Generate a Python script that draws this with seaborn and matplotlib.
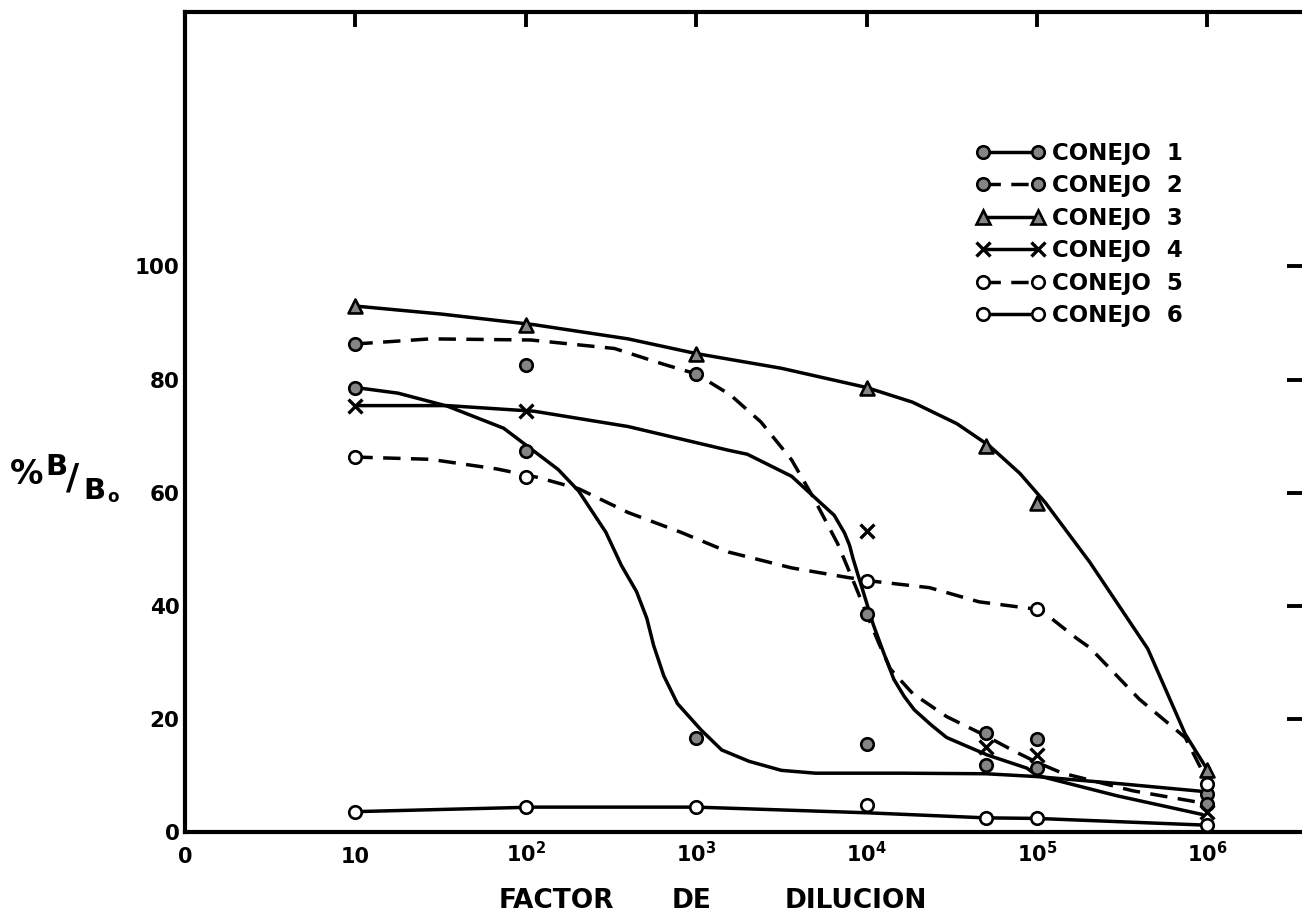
import numpy as np
import pandas as pd
import matplotlib
matplotlib.use("Agg")
import matplotlib.pyplot as plt
from matplotlib.lines import Line2D
from matplotlib.ticker import NullLocator
import seaborn as sns

# ---------------- data ----------------
series_names = ["CONEJO  1", "CONEJO  2", "CONEJO  3", "CONEJO  4", "CONEJO  5", "CONEJO  6"]

# measured points: dilution factor and %B/Bo
c1_x = [10, 100, 1e3, 1e4, 5e4, 1e5, 1e6]
c1_y = [78.6, 67.3, 16.7, 15.5, 11.8, 11.3, 6.7]
c2_x = [10, 100, 1e3, 1e4, 5e4, 1e5, 1e6]
c2_y = [86.3, 82.6, 81.0, 38.6, 17.5, 16.5, 4.9]
c3_x = [10, 100, 1e3, 1e4, 5e4, 1e5, 1e6]
c3_y = [93.0, 89.7, 84.6, 78.6, 68.3, 58.2, 10.9]
c4_x = [10, 100, 1e4, 5e4, 1e5, 1e6]
c4_y = [75.4, 74.4, 53.3, 15.0, 13.6, 3.5]
c5_x = [10, 100, 1e4, 1e5, 1e6]
c5_y = [66.3, 62.7, 44.3, 39.4, 8.5]
c6_x = [10, 100, 1e3, 1e4, 5e4, 1e5, 1e6]
c6_y = [3.6, 4.4, 4.4, 4.7, 2.4, 2.4, 1.3]

# hand-drawn fitted curves (exponent of dilution, %B/Bo)
c1_curve_exp = [1.0, 1.25, 1.54, 1.87, 2.05, 2.19, 2.31, 2.47, 2.56, 2.65, 2.71, 2.75,
                2.81, 2.89, 3.03, 3.15, 3.31, 3.5, 3.7, 4.2, 4.7, 5.0, 5.5, 6.0]
c1_curve_val = [78.6, 77.6, 75.3, 71.4, 67.3, 64.1, 60.3, 53.0, 47.2, 42.5, 37.8, 33.0,
                27.6, 22.7, 18.0, 14.5, 12.5, 10.9, 10.4, 10.4, 10.3, 9.8, 8.5, 7.1]
c2_curve_exp = [1.0, 1.44, 2.03, 2.52, 2.81, 3.0, 3.2, 3.38, 3.56, 3.69, 3.83, 3.93,
                4.0, 4.07, 4.14, 4.27, 4.47, 4.68, 4.86, 5.0, 5.15, 5.56, 5.94]
c2_curve_val = [86.3, 87.2, 87.0, 85.5, 82.7, 81.0, 77.3, 72.5, 65.8, 59.0, 51.0, 43.8,
                38.6, 33.5, 28.8, 24.5, 20.4, 17.3, 14.4, 12.3, 10.4, 7.3, 5.3]
c3_curve_exp = [1.0, 1.5, 2.05, 2.6, 3.0, 3.5, 4.0, 4.27, 4.53, 4.72, 4.9, 5.05,
                5.31, 5.65, 5.87, 6.0]
c3_curve_val = [93.0, 91.6, 89.7, 87.2, 84.6, 82.0, 78.6, 76.0, 72.2, 68.3, 63.4, 58.2,
                47.7, 32.4, 17.3, 11.0]
c4_curve_exp = [1.0, 1.54, 2.05, 2.6, 3.19, 3.30, 3.56, 3.73, 3.81, 3.87, 3.90, 3.92,
                3.95, 3.98, 4.04, 4.10, 4.16, 4.22, 4.28, 4.38, 4.47, 4.71, 4.94, 5.0,
                5.47, 5.97]
c4_curve_val = [75.4, 75.4, 74.4, 71.7, 67.5, 66.8, 62.9, 58.2, 56.0, 52.9, 50.7, 48.4,
                45.4, 42.5, 36.6, 31.7, 27.0, 24.0, 21.6, 18.9, 16.7, 13.6, 11.3, 10.0,
                6.4, 3.1]
c5_curve_exp = [1.0, 1.44, 1.83, 2.07, 2.31, 2.6, 2.91, 3.19, 3.56, 3.89, 4.05, 4.37,
                4.66, 5.02, 5.23, 5.31, 5.6, 5.87, 6.0]
c5_curve_val = [66.3, 65.9, 64.2, 62.7, 60.7, 56.5, 53.0, 49.5, 46.7, 45.0, 44.3, 43.2,
                40.7, 39.3, 34.3, 32.6, 23.5, 16.7, 9.0]
c6_curve_exp = [1.0, 2.05, 3.0, 4.0, 4.7, 5.0, 6.0]
c6_curve_val = [3.6, 4.4, 4.4, 3.4, 2.5, 2.4, 1.2]

x_tick_values = [1, 10, 1e2, 1e3, 1e4, 1e5, 1e6]
x_tick_labels = ["0", "10", r"$10^{2}$", r"$10^{3}$", r"$10^{4}$", r"$10^{5}$", r"$10^{6}$"]
y_tick_values = [0, 20, 40, 60, 80, 100]
x_label_words = ["FACTOR", "DE", "DILUCION"]
y_label_parts = ["%", "B", "/", "B", "o"]

# ---------------- style ----------------
sns.set_theme(style="white")
plt.rcParams["font.family"] = ["DejaVu Sans"]
plt.rcParams["font.weight"] = "bold"
plt.rcParams["mathtext.default"] = "bf"
plt.rcParams["text.color"] = "black"
plt.rcParams["axes.labelcolor"] = "black"
plt.rcParams["xtick.color"] = "black"
plt.rcParams["ytick.color"] = "black"

GREY = "#858585"
LW = 2.5
DASH = (0, (5.0, 3.0))

styles = [
    dict(ls="-", marker="o", mfc=GREY, ms=9.0),
    dict(ls=DASH, marker="o", mfc=GREY, ms=9.0),
    dict(ls="-", marker="^", mfc=GREY, ms=10.0),
    dict(ls="-", marker="x", mfc="black", ms=10.0),
    dict(ls=DASH, marker="o", mfc="white", ms=9.0),
    dict(ls="-", marker="o", mfc="white", ms=9.0),
]

points = [(c1_x, c1_y), (c2_x, c2_y), (c3_x, c3_y), (c4_x, c4_y), (c5_x, c5_y), (c6_x, c6_y)]
curves = [(c1_curve_exp, c1_curve_val), (c2_curve_exp, c2_curve_val), (c3_curve_exp, c3_curve_val),
          (c4_curve_exp, c4_curve_val), (c5_curve_exp, c5_curve_val), (c6_curve_exp, c6_curve_val)]

W, H = 1302, 916
fig = plt.figure(figsize=(W / 100, H / 100), dpi=100)
fig.patch.set_facecolor("white")
ax = fig.add_axes([185 / W, 1 - 832 / H, 1 - 185 / W, (832 - 12) / H])
ax.set_facecolor("white")
ax.set_xscale("log")


def fx(px):
    return px / W


def fy(py):
    return 1 - py / H


for (cx, cy), st in zip(curves, styles):
    curve_df = pd.DataFrame({"x": np.power(10.0, cx), "y": cy})
    sns.lineplot(data=curve_df, x="x", y="y", ax=ax, color="black", lw=LW,
                 estimator=None, sort=False, zorder=2)
    ax.lines[-1].set_linestyle(st["ls"])
    ax.lines[-1].set_dash_capstyle("butt")
    ax.lines[-1].set_solid_joinstyle("round")

for (px, py), st in zip(points, styles):
    pts_df = pd.DataFrame({"x": px, "y": py})
    if st["marker"] == "x":
        sns.scatterplot(data=pts_df, x="x", y="y", ax=ax, marker="x", s=st["ms"] ** 2,
                        color="black", linewidth=2.4, zorder=5)
    else:
        sns.scatterplot(data=pts_df, x="x", y="y", ax=ax, marker=st["marker"], s=st["ms"] ** 2,
                        color=st["mfc"], edgecolor="black", linewidth=1.9, zorder=5)

ax.set_xlim(1, 10 ** ((W - 185) / 170.4))
ax.set_ylim(0, 145)
ax.set_xticks(x_tick_values)
ax.set_xticklabels(x_tick_labels)
ax.xaxis.set_minor_locator(NullLocator())
ax.set_yticks(y_tick_values)
ax.set_yticklabels([str(v) for v in y_tick_values])
ax.set_xlabel("")
ax.set_ylabel("")

for side in ["left", "bottom", "top"]:
    ax.spines[side].set_linewidth(3.0)
    ax.spines[side].set_color("black")
ax.spines["right"].set_visible(False)

ax.tick_params(axis="both", which="major", direction="in", length=11, width=2.8,
               top=True, right=True, colors="black")
ax.tick_params(axis="x", labelsize=15, pad=22)
ax.tick_params(axis="y", labelsize=15.5, pad=4)
for lab in ax.get_xticklabels():
    lab.set_verticalalignment("baseline")
    lab.set_fontweight("bold")
    lab.set_color("black")
for lab in ax.get_yticklabels():
    lab.set_fontweight("bold")
    lab.set_color("black")

# y label  % B/Bo  (typeset piece by piece like the original lettering)
ylab_pos = [(27, 475), (56, 467), (73, 478), (94, 491), (113, 497)]
ylab_size = [24, 21, 26, 21, 12]
for part, (px_, py_), sz in zip(y_label_parts, ylab_pos, ylab_size):
    fig.text(fx(px_), fy(py_), part, fontsize=sz, ha="center", va="center",
             fontweight="bold", color="black")

# x label
word_centers = [556, 692, 856]
for word, xc in zip(x_label_words, word_centers):
    fig.text(fx(xc), fy(908), word, fontsize=19, ha="center", va="baseline",
             fontweight="bold", color="black")

# legend
handles = []
for st in styles:
    if st["marker"] == "x":
        h = Line2D([0], [0], color="black", lw=LW, ls=st["ls"], marker="x",
                   ms=st["ms"], mec="black", mew=2.4)
    else:
        h = Line2D([0], [0], color="black", lw=LW, ls=st["ls"], marker=st["marker"],
                   ms=st["ms"], mfc=st["mfc"], mec="black", mew=1.9)
    handles.append(h)
leg = fig.legend(handles, series_names, loc="upper left",
                 bbox_to_anchor=(fx(976), fy(142)), frameon=False, numpoints=2,
                 handlelength=3.0, handletextpad=0.3, labelspacing=0.41, borderpad=0,
                 borderaxespad=0, prop={"size": 16.5, "weight": "bold"})
for t in leg.get_texts():
    t.set_color("black")

fig.savefig("out.png", dpi=100, facecolor="white")
